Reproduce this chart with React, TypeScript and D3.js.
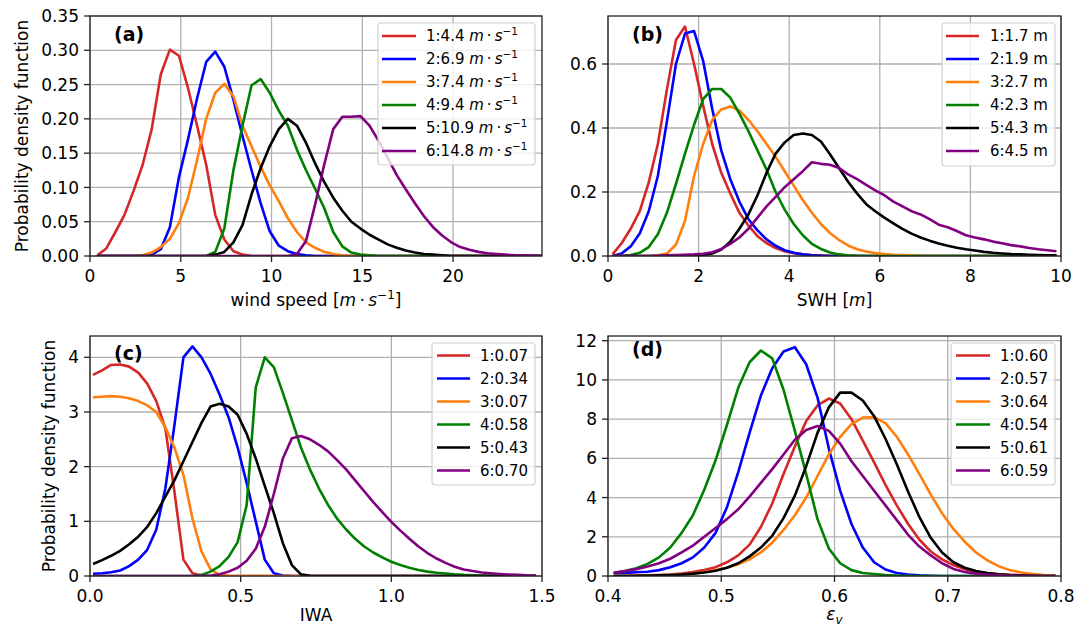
import React from 'react'
import * as d3 from 'd3'

const FONT = '"DejaVu Sans", Verdana, sans-serif'
const colors = ['#d62728', '#0000ff', '#ff7f0e', '#008000', '#000000', '#800080']

// bin centres of each histogram
const windX = d3.range(50).map(i => +(0.4 + 0.5 * i).toFixed(3))
const swhX = d3.range(50).map(i => +(0.1 + 0.2 * i).toFixed(3))
const iwaX = d3.range(50).map(i => +(0.01 + 0.03 * i).toFixed(3))
const epsX = d3.range(40).map(i => +(0.405 + 0.01 * i).toFixed(3))

// (a) wind speed pdf
const windRed = [0.001, 0.011, 0.035, 0.06, 0.095, 0.133, 0.185, 0.265, 0.301, 0.292, 0.245, 0.19, 0.133, 0.06, 0.024, 0.007, 0.002,
  0, 0, 0, 0, 0, 0, 0, 0, 0, 0, 0, 0, 0, 0, 0, 0, 0, 0, 0, 0, 0, 0, 0, 0, 0, 0, 0, 0, 0, 0, 0, 0, 0]
const windBlue = [0, 0, 0, 0, 0, 0, 0.002, 0.01, 0.042, 0.115, 0.17, 0.23, 0.283, 0.298, 0.276, 0.228, 0.175, 0.125, 0.077, 0.036,
  0.015, 0.007, 0.003, 0.001, 0, 0, 0, 0, 0, 0, 0, 0, 0, 0, 0, 0, 0, 0, 0, 0, 0, 0, 0, 0, 0, 0, 0, 0, 0, 0]
const windOrange = [0, 0, 0, 0, 0, 0.001, 0.005, 0.013, 0.025, 0.048, 0.085, 0.14, 0.2, 0.238, 0.251, 0.233, 0.19, 0.16, 0.13, 0.103,
  0.08, 0.055, 0.035, 0.02, 0.012, 0.006, 0.003, 0.001, 0, 0, 0, 0, 0, 0, 0, 0, 0, 0, 0, 0, 0, 0, 0, 0, 0, 0, 0, 0, 0, 0]
const windGreen = [0, 0, 0, 0, 0, 0, 0, 0, 0, 0, 0, 0, 0, 0.006, 0.04, 0.125, 0.19, 0.249, 0.258, 0.238, 0.212, 0.19, 0.155, 0.125,
  0.098, 0.07, 0.035, 0.014, 0.005, 0.002, 0.001, 0, 0, 0, 0, 0, 0, 0, 0, 0, 0, 0, 0, 0, 0, 0, 0, 0, 0, 0]
const windBlack = [0, 0, 0, 0, 0, 0, 0, 0, 0, 0, 0, 0, 0, 0.002, 0.006, 0.02, 0.045, 0.09, 0.128, 0.16, 0.185, 0.2, 0.19, 0.165,
  0.135, 0.108, 0.085, 0.066, 0.05, 0.04, 0.031, 0.024, 0.017, 0.012, 0.008, 0.005, 0.003, 0.002, 0.001, 0, 0, 0, 0, 0, 0, 0, 0, 0, 0, 0]
const windPurple = [0, 0, 0, 0, 0, 0, 0, 0, 0, 0, 0, 0, 0, 0, 0, 0, 0, 0, 0, 0, 0, 0, 0.003, 0.022, 0.075, 0.133, 0.185, 0.203, 0.203,
  0.204, 0.19, 0.168, 0.143, 0.118, 0.097, 0.077, 0.058, 0.042, 0.03, 0.02, 0.013, 0.009, 0.006, 0.004, 0.003, 0.002, 0.001, 0.001, 0.0005, 0]
const windLabels = ['1:4.4', '2:6.9', '3:7.4', '4:9.4', '5:10.9', '6:14.8']

// (b) significant wave height pdf
const swhRed = [0.005, 0.04, 0.085, 0.14, 0.23, 0.35, 0.52, 0.675, 0.717, 0.6, 0.47, 0.35, 0.26, 0.195, 0.135, 0.095, 0.062, 0.04,
  0.025, 0.015, 0.009, 0.005, 0.003, 0.002, 0.001, 0, 0, 0, 0, 0, 0, 0, 0, 0, 0, 0, 0, 0, 0, 0, 0, 0, 0, 0, 0, 0, 0, 0, 0, 0]
const swhBlue = [0, 0.008, 0.03, 0.07, 0.14, 0.25, 0.42, 0.6, 0.695, 0.703, 0.61, 0.46, 0.33, 0.24, 0.17, 0.115, 0.08, 0.052, 0.032,
  0.018, 0.01, 0.005, 0.002, 0.001, 0, 0, 0, 0, 0, 0, 0, 0, 0, 0, 0, 0, 0, 0, 0, 0, 0, 0, 0, 0, 0, 0, 0, 0, 0, 0]
const swhOrange = [0, 0, 0, 0, 0, 0.002, 0.008, 0.035, 0.11, 0.25, 0.35, 0.425, 0.458, 0.467, 0.455, 0.425, 0.39, 0.35, 0.31, 0.265,
  0.22, 0.175, 0.135, 0.1, 0.072, 0.05, 0.033, 0.021, 0.014, 0.009, 0.006, 0.004, 0.003, 0.002, 0.001, 0.001, 0, 0, 0, 0, 0, 0, 0, 0, 0, 0, 0, 0, 0, 0]
const swhGreen = [0, 0, 0.003, 0.01, 0.028, 0.068, 0.135, 0.225, 0.32, 0.41, 0.49, 0.522, 0.522, 0.495, 0.445, 0.39, 0.33, 0.27, 0.2,
  0.145, 0.1, 0.065, 0.038, 0.022, 0.011, 0.005, 0.002, 0.001, 0, 0, 0, 0, 0, 0, 0, 0, 0, 0, 0, 0, 0, 0, 0, 0, 0, 0, 0, 0, 0, 0]
const swhBlack = [0, 0, 0, 0, 0, 0, 0, 0, 0, 0.001, 0.003, 0.008, 0.02, 0.045, 0.085, 0.13, 0.19, 0.26, 0.32, 0.355, 0.378, 0.383,
  0.378, 0.358, 0.318, 0.275, 0.232, 0.195, 0.162, 0.14, 0.12, 0.102, 0.085, 0.07, 0.058, 0.048, 0.039, 0.032, 0.026, 0.021, 0.017,
  0.013, 0.01, 0.008, 0.006, 0.005, 0.004, 0.003, 0.002, 0.002]
const swhPurple = [0, 0, 0, 0, 0, 0.001, 0.002, 0.003, 0.004, 0.005, 0.007, 0.012, 0.022, 0.038, 0.058, 0.085, 0.12, 0.155, 0.185,
  0.215, 0.24, 0.265, 0.293, 0.288, 0.285, 0.275, 0.255, 0.24, 0.222, 0.205, 0.19, 0.17, 0.155, 0.14, 0.13, 0.115, 0.098, 0.09, 0.078,
  0.065, 0.058, 0.052, 0.045, 0.04, 0.034, 0.03, 0.025, 0.021, 0.018, 0.015]
const swhLabels = ['1:1.7 m', '2:1.9 m', '3:2.7 m', '4:2.3 m', '5:4.3 m', '6:4.5 m']

// (c) IWA pdf
const iwaRed = [3.68, 3.76, 3.86, 3.87, 3.83, 3.72, 3.52, 3.2, 2.7, 1.55, 0.3, 0.05, 0.01, 0, 0, 0, 0, 0, 0, 0, 0, 0, 0, 0, 0,
  0, 0, 0, 0, 0, 0, 0, 0, 0, 0, 0, 0, 0, 0, 0, 0, 0, 0, 0, 0, 0, 0, 0, 0, 0]
const iwaBlue = [0.04, 0.05, 0.07, 0.1, 0.18, 0.3, 0.48, 0.85, 1.6, 2.75, 4.0, 4.2, 4.0, 3.7, 3.32, 2.9, 2.35, 1.7, 1.0, 0.3, 0.05,
  0.01, 0, 0, 0, 0, 0, 0, 0, 0, 0, 0, 0, 0, 0, 0, 0, 0, 0, 0, 0, 0, 0, 0, 0, 0, 0, 0, 0, 0]
const iwaOrange = [3.27, 3.28, 3.29, 3.28, 3.25, 3.2, 3.12, 3.0, 2.72, 2.35, 1.85, 1.05, 0.45, 0.12, 0.02, 0.005, 0, 0, 0, 0, 0, 0,
  0, 0, 0, 0, 0, 0, 0, 0, 0, 0, 0, 0, 0, 0, 0, 0, 0, 0, 0, 0, 0, 0, 0, 0, 0, 0, 0, 0]
const iwaGreen = [0, 0, 0, 0, 0, 0, 0, 0, 0, 0, 0, 0, 0.02, 0.08, 0.18, 0.35, 0.62, 1.3, 3.45, 4.0, 3.82, 3.35, 2.85, 2.35, 1.95,
  1.6, 1.3, 1.05, 0.85, 0.68, 0.54, 0.43, 0.34, 0.26, 0.2, 0.15, 0.11, 0.08, 0.06, 0.045, 0.03, 0.02, 0.015, 0.01, 0.007, 0.005,
  0.003, 0.002, 0.001, 0]
const iwaBlack = [0.22, 0.29, 0.37, 0.46, 0.58, 0.72, 0.9, 1.15, 1.45, 1.75, 2.1, 2.45, 2.8, 3.1, 3.15, 3.1, 2.95, 2.6, 2.15, 1.65,
  1.15, 0.6, 0.2, 0.03, 0.005, 0, 0, 0, 0, 0, 0, 0, 0, 0, 0, 0, 0, 0, 0, 0, 0, 0, 0, 0, 0, 0, 0, 0, 0, 0]
const iwaPurple = [0, 0, 0, 0, 0, 0, 0, 0, 0, 0, 0, 0, 0.005, 0.01, 0.03, 0.08, 0.15, 0.28, 0.5, 0.9, 1.5, 2.15, 2.52, 2.56, 2.5,
  2.4, 2.28, 2.12, 1.95, 1.75, 1.55, 1.35, 1.17, 0.99, 0.83, 0.68, 0.54, 0.42, 0.32, 0.24, 0.17, 0.12, 0.09, 0.065, 0.05, 0.038,
  0.028, 0.02, 0.012, 0.008]
const iwaLabels = ['1:0.07', '2:0.34', '3:0.07', '4:0.58', '5:0.43', '6:0.70']

// (d) emissivity pdf
const epsRed = [0, 0.01, 0.02, 0.03, 0.05, 0.08, 0.13, 0.2, 0.3, 0.45, 0.7, 1.05, 1.6, 2.5, 3.7, 5.2, 6.6, 7.9, 8.7, 9.05, 8.8,
  8.0, 6.9, 5.8, 4.65, 3.6, 2.65, 1.85, 1.25, 0.85, 0.55, 0.35, 0.22, 0.14, 0.09, 0.06, 0.04, 0.02, 0.01, 0.01]
const epsBlue = [0.14, 0.16, 0.19, 0.22, 0.3, 0.45, 0.65, 0.95, 1.45, 2.2, 3.5, 5.3, 7.3, 9.2, 10.6, 11.45, 11.67, 10.8, 9.1, 6.5,
  4.35, 2.65, 1.45, 0.7, 0.33, 0.15, 0.07, 0.03, 0.01, 0, 0, 0, 0, 0, 0, 0, 0, 0, 0, 0]
const epsOrange = [0, 0, 0.01, 0.02, 0.03, 0.05, 0.08, 0.13, 0.2, 0.3, 0.42, 0.6, 0.85, 1.2, 1.7, 2.35, 3.1, 4.0, 5.1, 6.2, 7.1,
  7.75, 8.08, 8.1, 7.8, 7.1, 6.2, 5.2, 4.15, 3.2, 2.4, 1.75, 1.2, 0.8, 0.5, 0.3, 0.18, 0.1, 0.05, 0.03]
const epsGreen = [0.15, 0.25, 0.4, 0.62, 0.95, 1.45, 2.2, 3.1, 4.4, 5.9, 7.7, 9.6, 10.9, 11.5, 11.1, 9.5, 7.4, 5.2, 2.9, 1.4, 0.65,
  0.3, 0.15, 0.1, 0.05, 0.02, 0.01, 0, 0, 0, 0, 0, 0, 0, 0, 0, 0, 0, 0, 0]
const epsBlack = [0, 0, 0.01, 0.02, 0.03, 0.05, 0.08, 0.12, 0.18, 0.27, 0.42, 0.65, 1.0, 1.45, 2.05, 2.95, 4.1, 5.6, 7.3, 8.6, 9.35,
  9.35, 8.95, 8.15, 7.0, 5.7, 4.3, 3.0, 1.95, 1.2, 0.7, 0.42, 0.25, 0.15, 0.09, 0.05, 0.03, 0.01, 0, 0]
const epsPurple = [0.17, 0.25, 0.35, 0.48, 0.65, 0.88, 1.2, 1.55, 2.0, 2.45, 2.9, 3.4, 4.05, 4.75, 5.45, 6.2, 6.95, 7.45, 7.65, 7.4,
  6.75, 5.85, 5.1, 4.35, 3.6, 2.85, 2.1, 1.5, 1.05, 0.65, 0.36, 0.2, 0.12, 0.07, 0.04, 0.02, 0.01, 0, 0, 0]
const epsLabels = ['1:0.60', '2:0.57', '3:0.64', '4:0.54', '5:0.61', '6:0.59']

// axis ticks
const windTicks = [0, 5, 10, 15, 20]
const windYTicks = [0, 0.05, 0.1, 0.15, 0.2, 0.25, 0.3, 0.35]
const swhTicks = [0, 2, 4, 6, 8, 10]
const swhYTicks = [0, 0.2, 0.4, 0.6]
const iwaTicks = [0, 0.5, 1.0, 1.5]
const iwaYTicks = [0, 1, 2, 3, 4]
const epsTicks = [0.4, 0.5, 0.6, 0.7, 0.8]
const epsYTicks = [0, 2, 4, 6, 8, 10, 12]

const italic = { fontStyle: 'italic' } as const

function UnitMS({ size }) {
  return (
    <>
      <tspan style={italic}>m</tspan>
      <tspan>{'\u2009·\u2009'}</tspan>
      <tspan style={italic}>s</tspan>
      <tspan dy={-size * 0.42} fontSize={size * 0.7}>−1</tspan>
    </>
  )
}

function Panel({ box, xs, series, labels, xDomain, yDomain, xTicks, yTicks, xFmt, yFmt, tag, tagPos, legend, xLabel, xLabelGap, yLabel, id }) {
  const x = d3.scaleLinear().domain(xDomain).range([box.l, box.r])
  const y = d3.scaleLinear().domain(yDomain).range([box.b, box.t])
  const line = d3.line().x(d => x(d[0])).y(d => y(d[1]))
  const tickLen = 6
  const fs = 17
  const lfs = 15
  return (
    <g fontFamily={FONT}>
      <defs>
        <clipPath id={'clip' + id}>
          <rect x={box.l} y={box.t} width={box.r - box.l} height={box.b - box.t} />
        </clipPath>
      </defs>
      <g stroke="#b0b0b0" strokeWidth={1.3}>
        {xTicks.map(t => <line key={'gx' + t} x1={x(t)} x2={x(t)} y1={box.t} y2={box.b} />)}
        {yTicks.map(t => <line key={'gy' + t} x1={box.l} x2={box.r} y1={y(t)} y2={y(t)} />)}
      </g>
      <g clipPath={`url(#clip${id})`} fill="none" strokeWidth={2.6} strokeLinejoin="round">
        {series.map((s, i) =>
          <path key={i} d={line(xs.map((v, j) => [v, s[j]]))} stroke={colors[i]} />)}
      </g>
      <rect x={box.l} y={box.t} width={box.r - box.l} height={box.b - box.t} fill="none" stroke="#222" strokeWidth={1.3} />
      <g stroke="#222" strokeWidth={1.3}>
        {xTicks.map(t => <line key={'tx' + t} x1={x(t)} x2={x(t)} y1={box.b} y2={box.b + tickLen} />)}
        {yTicks.map(t => <line key={'ty' + t} x1={box.l} x2={box.l - tickLen} y1={y(t)} y2={y(t)} />)}
      </g>
      <g fontSize={fs} fill="#000">
        {xTicks.map(t =>
          <text key={'lx' + t} x={x(t)} y={box.b + 25.5} textAnchor="middle">{xFmt(t)}</text>)}
        {yTicks.map(t =>
          <text key={'ly' + t} x={box.l - 11} y={y(t)} dy="0.36em" textAnchor="end">{yFmt(t)}</text>)}
      </g>
      <text x={tagPos[0]} y={tagPos[1]} fontSize={19} fontWeight="bold">{tag}</text>
      <rect x={legend.x0} y={legend.y0} width={legend.x1 - legend.x0} height={legend.y1 - legend.y0}
        rx={3} fill="#fff" fillOpacity={0.8} stroke="#d0d0d0" strokeWidth={1.2} />
      {labels.map((lab, i) => {
        const ry = legend.row0 + i * 23
        return (
          <g key={'lg' + i}>
            <line x1={legend.lx0} x2={legend.lx1} y1={ry} y2={ry} stroke={colors[i]} strokeWidth={2.6} />
            <text x={legend.tx} y={ry} dy="0.36em" fontSize={lfs}>
              {lab}{legend.unit ? <>{' '}<UnitMS size={lfs} /></> : null}
            </text>
          </g>
        )
      })}
      <text x={(box.l + box.r) / 2} y={box.b + xLabelGap} fontSize={fs} textAnchor="middle">{xLabel}</text>
      {yLabel &&
        <text transform={`translate(${yLabel},${(box.t + box.b) / 2}) rotate(-90)`} fontSize={fs} textAnchor="middle">
          Probability density function
        </text>}
    </g>
  )
}

export default function App() {
  const f0 = d3.format('d')
  const f1 = d3.format('.1f')
  const f2 = d3.format('.2f')
  return (
    <svg width={1088} height={631} style={{ position: 'absolute', left: 0, top: 0, background: '#fff' }}>
      <rect width={1088} height={631} fill="#fff" />
      <Panel id="a" box={{ l: 90, t: 16, r: 542, b: 256 }} xs={windX}
        series={[windRed, windBlue, windOrange, windGreen, windBlack, windPurple]} labels={windLabels}
        xDomain={[0, 24.9]} yDomain={[0, 0.35]} xTicks={windTicks} yTicks={windYTicks} xFmt={f0} yFmt={f2}
        tag="(a)" tagPos={[114, 40.5]}
        legend={{ x0: 378, x1: 535, y0: 23, y1: 165, lx0: 382, lx1: 416, tx: 426, row0: 36, unit: true }}
        xLabel={<>wind speed [<UnitMS size={17} /><tspan dy={7}>]</tspan></>} xLabelGap={50} yLabel={28} />
      <Panel id="b" box={{ l: 608, t: 16, r: 1061, b: 256 }} xs={swhX}
        series={[swhRed, swhBlue, swhOrange, swhGreen, swhBlack, swhPurple]} labels={swhLabels}
        xDomain={[0, 10]} yDomain={[0, 0.75]} xTicks={swhTicks} yTicks={swhYTicks} xFmt={f0} yFmt={f1}
        tag="(b)" tagPos={[632, 40.5]}
        legend={{ x0: 942, x1: 1055, y0: 23, y1: 166, lx0: 946, lx1: 979, tx: 990, row0: 36 }}
        xLabel={<>SWH [<tspan style={italic}>m</tspan>]</>} xLabelGap={50} />
      <Panel id="c" box={{ l: 90, t: 336, r: 542, b: 576 }} xs={iwaX}
        series={[iwaRed, iwaBlue, iwaOrange, iwaGreen, iwaBlack, iwaPurple]} labels={iwaLabels}
        xDomain={[0, 1.5]} yDomain={[0, 4.39]} xTicks={iwaTicks} yTicks={iwaYTicks} xFmt={f1} yFmt={f0}
        tag="(c)" tagPos={[114, 359.5]}
        legend={{ x0: 432, x1: 535, y0: 343, y1: 485, lx0: 437, lx1: 470, tx: 480, row0: 355.5 }}
        xLabel="IWA" xLabelGap={45} yLabel={55} />
      <Panel id="d" box={{ l: 608, t: 336, r: 1061, b: 576 }} xs={epsX}
        series={[epsRed, epsBlue, epsOrange, epsGreen, epsBlack, epsPurple]} labels={epsLabels}
        xDomain={[0.4, 0.8]} yDomain={[0, 12.24]} xTicks={epsTicks} yTicks={epsYTicks} xFmt={f1} yFmt={f0}
        tag="(d)" tagPos={[632, 355.5]}
        legend={{ x0: 951, x1: 1055, y0: 343, y1: 485, lx0: 956, lx1: 990, tx: 1000, row0: 355.5 }}
        xLabel={<><tspan style={italic}>ε</tspan><tspan style={italic} fontSize={12} dy={4}>v</tspan></>} xLabelGap={44} />
    </svg>
  )
}
